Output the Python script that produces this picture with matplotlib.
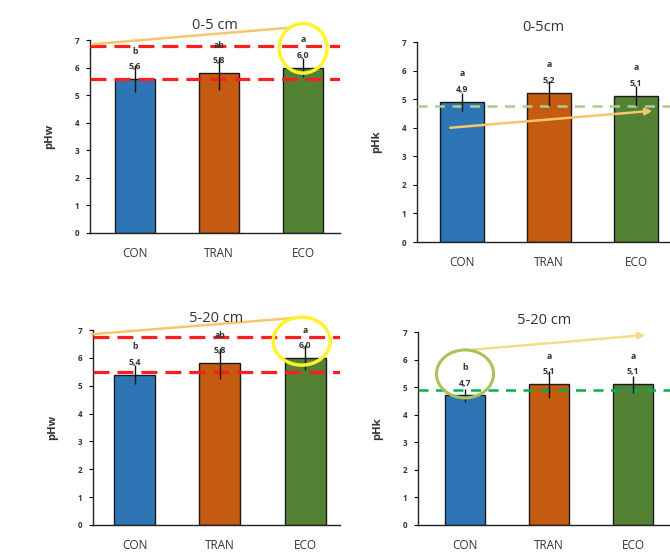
import matplotlib
matplotlib.use("Agg")
import matplotlib.pyplot as plt
from matplotlib.patches import Ellipse

plt.rcParams['font.family'] = ['Open Sans', 'DejaVu Sans']

# Treatments and pH means / standard errors for the two soil depths
treatments = ['CON', 'TRAN', 'ECO']
colors = ['#2E75B6', '#C55A11', '#548235']

phw_0_5 = [5.6, 5.8, 6.0]
phw_0_5_err = [0.5, 0.6, 0.35]
phw_0_5_letters = ['b', 'ab', 'a']

phk_0_5 = [4.9, 5.2, 5.1]
phk_0_5_err = [0.3, 0.45, 0.35]
phk_0_5_letters = ['a', 'a', 'a']

phw_5_20 = [5.4, 5.8, 6.0]
phw_5_20_err = [0.35, 0.55, 0.45]
phw_5_20_letters = ['b', 'ab', 'a']

phk_5_20 = [4.7, 5.1, 5.1]
phk_5_20_err = [0.25, 0.5, 0.3]
phk_5_20_letters = ['b', 'a', 'a']

# reference lines drawn across each panel
phw_0_5_refs = [6.8, 5.6]
phw_5_20_refs = [6.75, 5.5]
phk_0_5_ref = 4.75
phk_5_20_ref = 4.9

W, H = 670, 558
fig = plt.figure(figsize=(W / 100, H / 100), dpi=100)


def make_axes(left, right, zero_y, top_y):
    # pixel box -> figure fraction
    return fig.add_axes([left / W, 1 - zero_y / H, (right - left) / W, (zero_y - top_y) / H])


def bar_panel(ax, values, errs, letters, title, ylabel, xlim, width, title_pad=6):
    x = range(len(treatments))
    ax.bar(x, values, width=width, color=colors, edgecolor='#1a1a1a', linewidth=1.0, zorder=2)
    ax.errorbar(x, values, yerr=errs, fmt='none', ecolor='#111111', elinewidth=1.0,
                capsize=0, zorder=4)
    for xi, v, lab in zip(x, values, letters):
        ax.text(xi, v + 0.45, f'{v:.1f}'.replace('.', ','), ha='center', va='center',
                fontsize=6.3, fontweight='bold', color='#333333', zorder=5)
        ax.text(xi, v + 1.0, lab, ha='center', va='center', fontsize=6.3,
                fontweight='bold', color='#333333', zorder=5)
    ax.set_xlim(*xlim)
    ax.set_ylim(0, 7)
    ax.set_yticks(range(8))
    ax.set_xticks(list(x))
    ax.set_xticklabels(treatments, fontsize=8.5, color='#333333')
    ax.tick_params(axis='x', length=0, pad=10)
    ax.tick_params(axis='y', labelsize=5.8, length=3, width=0.8, pad=5, labelcolor='#333333')
    for lbl in ax.get_yticklabels():
        lbl.set_fontweight('bold')
    for s in ['top', 'right']:
        ax.spines[s].set_visible(False)
    for s in ['left', 'bottom']:
        ax.spines[s].set_color('#222222')
        ax.spines[s].set_linewidth(1.0)
    ax.set_title(title, fontsize=10.5, color='#333333', pad=title_pad)
    ax.set_ylabel(ylabel, fontsize=8, fontweight='bold', color='#333333', labelpad=14)


# top-left: pHw 0-5 cm
ax1 = make_axes(90, 340, 233, 40)
bar_panel(ax1, phw_0_5, phw_0_5_err, phw_0_5_letters, '0-5 cm', 'pHw', (-0.54, 2.44), 0.48,
          title_pad=8)
for r in phw_0_5_refs:
    ax1.axhline(r, color='#FF1E1E', linestyle=(0, (5, 2.5)), linewidth=2.3, zorder=3)
ax1.plot([-0.5, 1.85], [6.85, 7.45], color='#F7C66A', linewidth=1.8, clip_on=False, zorder=3)
ax1.add_patch(Ellipse((2.0, 6.7), 0.57, 1.8, fill=False, edgecolor='#FFF22E',
                      linewidth=2.5, clip_on=False, zorder=6))

# top-right: pHk 0-5 cm
ax2 = make_axes(417, 670, 242, 42)
bar_panel(ax2, phk_0_5, phk_0_5_err, phk_0_5_letters, '0-5cm', 'pHk', (-0.52, 2.39), 0.5,
          title_pad=8)
ax2.axhline(phk_0_5_ref, color='#A8D08D', linestyle=(0, (4, 3)), linewidth=1.8, zorder=3)
ax2.annotate('', xy=(2.22, 4.6), xytext=(-0.17, 3.99),
             arrowprops=dict(arrowstyle='-|>', color='#F7C66A', lw=1.8, mutation_scale=10),
             zorder=5)

# bottom-left: pHw 5-20 cm
ax3 = make_axes(93, 340, 525, 330)
bar_panel(ax3, phw_5_20, phw_5_20_err, phw_5_20_letters, '5-20 cm', 'pHw', (-0.49, 2.41), 0.48)
for r in phw_5_20_refs:
    ax3.axhline(r, color='#FF1E1E', linestyle=(0, (5, 2.5)), linewidth=2.3, zorder=3)
ax3.plot([-0.5, 1.95], [6.85, 7.45], color='#F7C66A', linewidth=1.8, clip_on=False, zorder=3)
ax3.add_patch(Ellipse((1.96, 6.6), 0.67, 1.72, fill=False, edgecolor='#FFF22E',
                      linewidth=2.5, clip_on=False, zorder=6))

# bottom-right: pHk 5-20 cm
ax4 = make_axes(418, 670, 525, 332)
bar_panel(ax4, phk_5_20, phk_5_20_err, phk_5_20_letters, '5-20 cm', 'pHk', (-0.56, 2.44), 0.48)
ax4.axhline(phk_5_20_ref, color='#00B050', linestyle=(0, (4, 3)), linewidth=1.8, zorder=3)
ax4.add_patch(Ellipse((0.0, 5.48), 0.68, 1.74, fill=False, edgecolor='#A9C25A',
                      linewidth=2.2, clip_on=False, zorder=6))
ax4.annotate('', xy=(2.18, 6.9), xytext=(0.06, 6.35),
             arrowprops=dict(arrowstyle='-|>', color='#F5DC8A', lw=1.8, mutation_scale=10),
             annotation_clip=False, zorder=5)

fig.savefig('out.png', dpi=100)
